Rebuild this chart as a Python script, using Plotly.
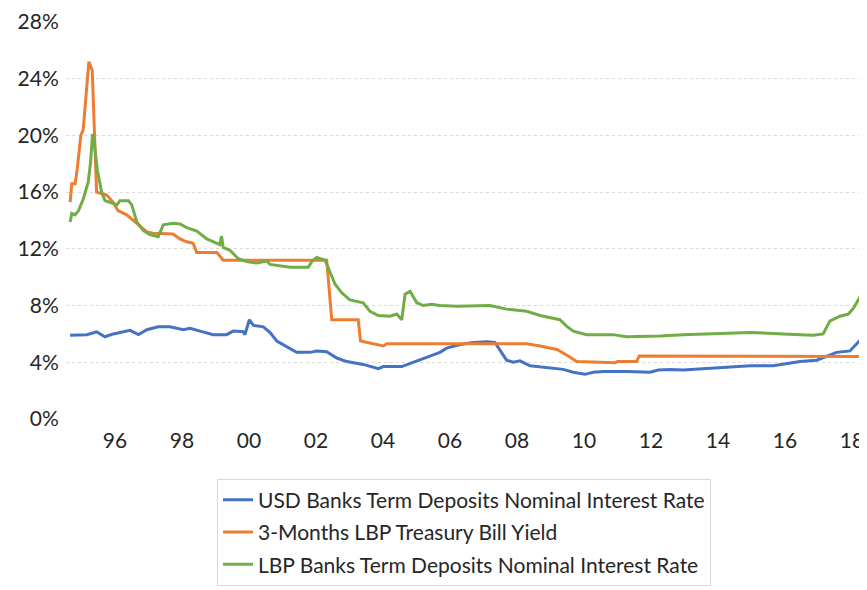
import plotly.graph_objects as go

# decimal years, values in percent
usd_x = [1994.66, 1995.16, 1995.45, 1995.70, 1995.95, 1996.45, 1996.70, 1996.95, 1997.29, 1997.64,
         1998.04, 1998.24, 1998.54, 1998.93, 1999.33, 1999.53, 1999.83, 1999.88, 2000.01, 2000.13,
         2000.43, 2000.63, 2000.83, 2001.02, 2001.22, 2001.42, 2001.82, 2002.02, 2002.32, 2002.62,
         2002.92, 2003.41, 2003.86, 2004.01, 2004.56, 2004.90, 2005.30, 2005.70, 2005.90, 2006.30,
         2006.70, 2007.10, 2007.34, 2007.49, 2007.69, 2007.89, 2008.09, 2008.39, 2008.89, 2009.38,
         2009.68, 2010.03, 2010.28, 2010.58, 2011.27, 2011.87, 2011.97, 2012.22, 2012.57, 2012.96,
         2013.96, 2014.96, 2015.65, 2015.95, 2016.45, 2016.95, 2017.24, 2017.54, 2017.94, 2018.26]
usd_rate = [5.9, 5.95, 6.15, 5.8, 6.0, 6.25, 5.95, 6.3, 6.5, 6.5,
            6.3, 6.4, 6.2, 5.95, 5.95, 6.2, 6.15, 5.95, 7.0, 6.6,
            6.5, 6.1, 5.5, 5.25, 5.0, 4.7, 4.7, 4.8, 4.75, 4.3,
            4.05, 3.85, 3.55, 3.7, 3.7, 4.0, 4.3, 4.7, 5.0, 5.25,
            5.4, 5.45, 5.4, 4.9, 4.15, 4.0, 4.1, 3.75, 3.6, 3.5,
            3.3, 3.15, 3.3, 3.35, 3.35, 3.35, 3.3, 3.45, 3.5, 3.45,
            3.6, 3.75, 3.75, 3.85, 4.05, 4.15, 4.4, 4.7, 4.8, 5.6]

tb_x = [1994.66, 1994.71, 1994.81, 1994.87, 1994.98, 1995.05, 1995.22, 1995.32, 1995.45, 1995.75,
        1995.94, 1996.09, 1996.35, 1996.65, 1996.95, 1997.13, 1997.73, 1997.94, 1998.14, 1998.33,
        1998.44, 1999.04, 1999.23, 2002.32, 2002.47, 2003.26, 2003.33, 2004.01, 2004.11, 2008.29,
        2008.69, 2009.19, 2009.53, 2009.78, 2010.93, 2011.00, 2011.57, 2011.65, 2018.29]
tb_yield = [15.3, 16.6, 16.6, 17.6, 20.0, 20.4, 25.2, 24.6, 16.0, 15.8,
            15.3, 14.7, 14.4, 13.8, 13.2, 13.1, 13.05, 12.7, 12.5, 12.4,
            11.75, 11.75, 11.2, 11.2, 7.0, 7.0, 5.5, 5.15, 5.3, 5.3,
            5.15, 4.9, 4.45, 4.05, 3.96, 4.05, 4.05, 4.45, 4.4]

lbp_x = [1994.66, 1994.71, 1994.81, 1994.91, 1995.05, 1995.20, 1995.27, 1995.33, 1995.38, 1995.47,
         1995.60, 1995.70, 1995.95, 1996.05, 1996.15, 1996.40, 1996.50, 1996.65, 1996.84, 1997.04,
         1997.29, 1997.44, 1997.74, 1997.94, 1998.14, 1998.44, 1998.74, 1999.04, 1999.13, 1999.18,
         1999.23, 1999.43, 1999.68, 1999.93, 2000.23, 2000.53, 2000.63, 2001.22, 2001.77, 2001.87,
         2002.02, 2002.27, 2002.42, 2002.57, 2002.77, 2003.01, 2003.41, 2003.61, 2003.86, 2004.21,
         2004.41, 2004.56, 2004.66, 2004.81, 2005.01, 2005.20, 2005.45, 2005.70, 2006.20, 2007.19,
         2007.69, 2008.29, 2008.69, 2009.28, 2009.48, 2009.68, 2010.08, 2010.87, 2011.27, 2011.67,
         2012.27, 2012.96, 2013.96, 2014.96, 2015.95, 2016.84, 2017.14, 2017.34, 2017.64, 2017.89,
         2018.04, 2018.29]
lbp_rate = [13.9, 14.5, 14.4, 14.7, 15.5, 16.7, 18.1, 20.1, 19.5, 17.6,
            16.0, 15.4, 15.2, 15.1, 15.4, 15.4, 15.1, 13.9, 13.3, 13.0,
            12.85, 13.7, 13.8, 13.75, 13.5, 13.25, 12.7, 12.4, 12.3, 12.9,
            12.1, 11.9, 11.3, 11.1, 11.0, 11.15, 10.9, 10.7, 10.7, 11.1,
            11.4, 11.2, 10.4, 9.5, 8.9, 8.4, 8.2, 7.6, 7.3, 7.25,
            7.4, 7.0, 8.8, 9.0, 8.2, 8.0, 8.1, 8.0, 7.95, 8.0,
            7.75, 7.6, 7.3, 7.0, 6.55, 6.2, 5.95, 5.95, 5.8, 5.8,
            5.85, 5.95, 6.0, 6.1, 6.0, 5.9, 6.0, 6.9, 7.25, 7.4,
            7.8, 8.8]

year_ticks = [1996, 1998, 2000, 2002, 2004, 2006, 2008, 2010, 2012, 2014, 2016, 2018]
year_labels = ["96", "98", "00", "02", "04", "06", "08", "10", "12", "14", "16", "18"]
pct_ticks = [0, 4, 8, 12, 16, 20, 24, 28]
pct_labels = ["0%", "4%", "8%", "12%", "16%", "20%", "24%", "28%"]

FONT = "Lato, 'Open Sans', sans-serif"

fig = go.Figure()

# one legend group per trace so tracegroupgap spaces the legend rows
fig.add_trace(go.Scatter(
    x=usd_x, y=usd_rate, mode='lines',
    name='USD Banks Term Deposits Nominal Interest Rate',
    legendgroup='usd',
    line=dict(color='#4472C4', width=3),
))
fig.add_trace(go.Scatter(
    x=tb_x, y=tb_yield, mode='lines',
    name='3-Months LBP Treasury Bill Yield',
    legendgroup='tb',
    line=dict(color='#ED7D31', width=3),
))
fig.add_trace(go.Scatter(
    x=lbp_x, y=lbp_rate, mode='lines',
    name='LBP Banks Term Deposits Nominal Interest Rate',
    legendgroup='lbp',
    line=dict(color='#70AD47', width=3),
))

fig.update_layout(
    width=867,
    height=590,
    margin=dict(l=58, r=13, t=14, b=172),
    paper_bgcolor='white',
    plot_bgcolor='white',
    font=dict(family=FONT, color='#262626'),
    showlegend=True,
    legend=dict(
        x=0.5, xanchor='center',
        y=-0.15, yanchor='top',
        font=dict(size=21, color='#262626'),
        bordercolor='#D9D9D9', borderwidth=1,
        tracegroupgap=2,
    ),
    xaxis=dict(
        range=[1994.537, 2018.30],
        tickvals=year_ticks,
        ticktext=year_labels,
        showgrid=False,
        zeroline=False,
        showline=False,
        automargin=False,
        ticks='outside', ticklen=3, tickcolor='rgba(0,0,0,0)',
        tickfont=dict(size=21, color='#262626'),
        ticklabeloverflow='allow',
    ),
    yaxis=dict(
        range=[0, 28],
        tickvals=pct_ticks,
        ticktext=pct_labels,
        showgrid=True,
        gridcolor='#D9D9D9',
        griddash='dot',
        gridwidth=1,
        zeroline=False,
        showline=False,
        automargin=False,
        ticks='outside', ticklen=2, tickcolor='rgba(0,0,0,0)',
        tickfont=dict(size=21, color='#262626'),
        ticklabeloverflow='allow',
    ),
)

fig.write_html("out.html")
